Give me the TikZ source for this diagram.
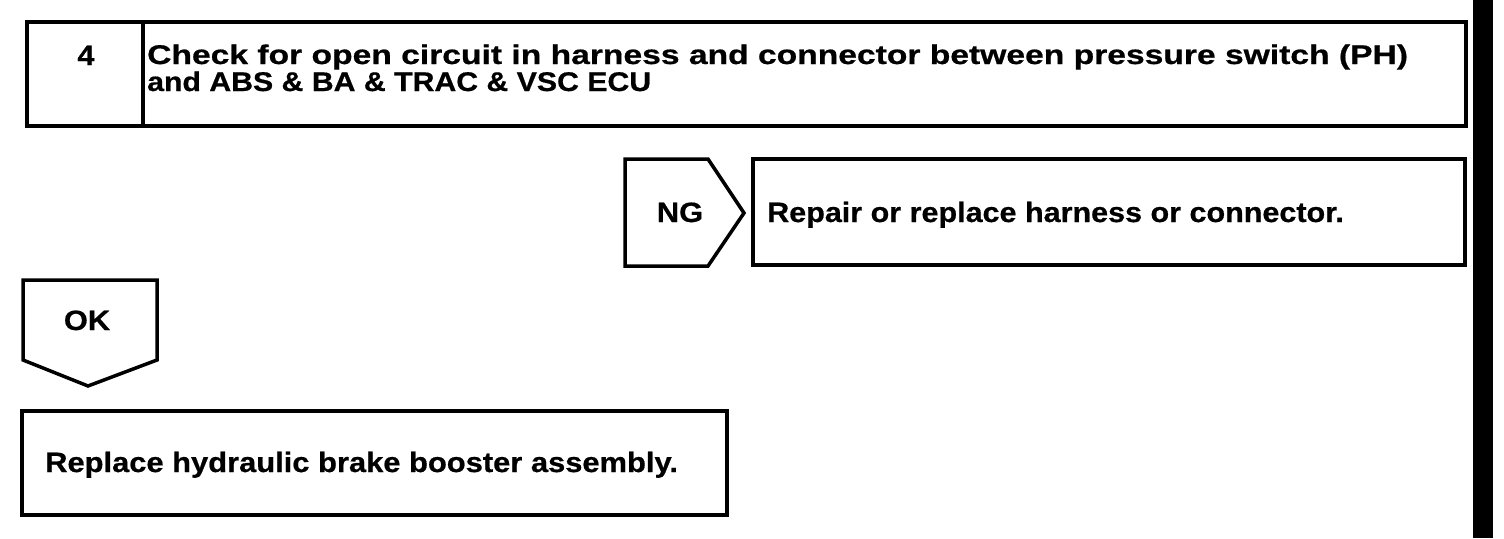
\documentclass[tikz,border=0pt]{standalone}
\usepackage{fontspec}
\setmainfont{Liberation Sans}
\newfontfamily\heavyfont[FakeBold=0.6]{Liberation Sans Bold}
\newcommand\hstretch[2]{\scalebox{#1}[1]{#2}}
\tikzset{
  frame/.style={draw=black, line width=3.5pt, line join=miter},
  lbl/.style={font=\fontsize{28}{30}\heavyfont, inner sep=0pt, text=black},
  ttl/.style={font=\fontsize{27}{29}\heavyfont, inner sep=0pt, text=black},
}
\begin{document}
\begin{tikzpicture}[x=1pt,y=-1pt]
\useasboundingbox (0,0) rectangle (1504,538);
\fill[white] (0,0) rectangle (1504,538);
\fill[black] (1473,0) rectangle (1493,538);
% step header
\draw[frame] (27,22) rectangle (143,126);
\draw[frame] (143,22) rectangle (1466,126);
\node[lbl, anchor=base] (num) at (86,65) {\hstretch{1.1}{4}};
\node[ttl, anchor=base west] (title1) at (147,64) {\hstretch{1.245}{Check for open circuit in harness and connector between pressure switch (PH)}};
\node[ttl, anchor=base west] (title2) at (147,91) {\hstretch{1.12}{and ABS \& BA \& TRAC \& VSC ECU}};
% NG branch
\draw[frame] (625,159) -- (708,159) -- (744,213) -- (708,266) -- (625,266) -- cycle;
\node[lbl, anchor=base] (ng) at (680,222) {\hstretch{1.1}{NG}};
\draw[frame] (753,159) rectangle (1465,265);
\node[lbl, anchor=base west] (repair) at (767,222) {\hstretch{1.09}{Repair or replace harness or connector.}};
% OK branch
\draw[frame] (23,280) -- (157,280) -- (157,360) -- (88,386) -- (23,360) -- cycle;
\node[lbl, anchor=base] (ok) at (87,330) {\hstretch{1.1}{OK}};
\draw[frame] (22,411) rectangle (727,515);
\node[lbl, anchor=base west] (replace) at (45,472) {\hstretch{1.103}{Replace hydraulic brake booster assembly.}};
\end{tikzpicture}
\end{document}
